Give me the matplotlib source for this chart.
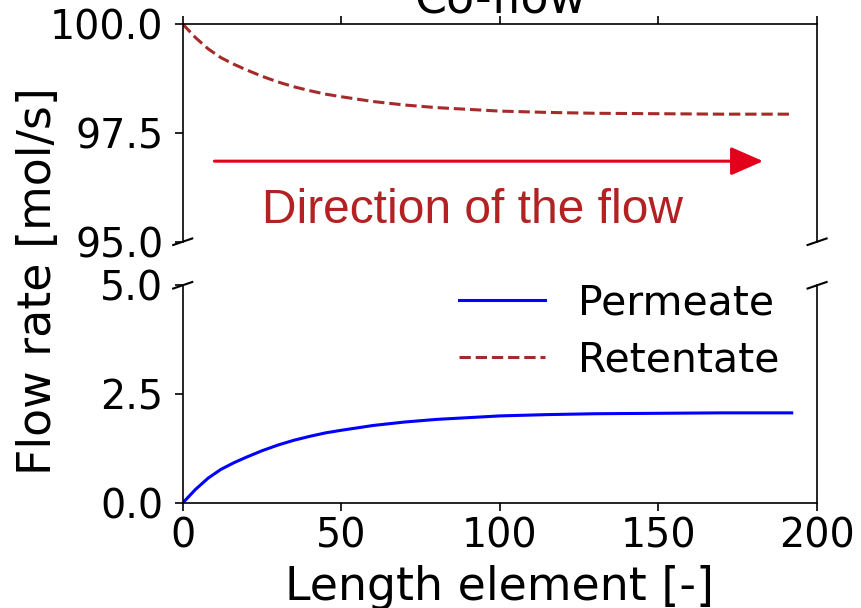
import matplotlib
matplotlib.use("Agg")
import matplotlib.pyplot as plt

# Data
length_element = [0, 4, 8, 12, 16, 20, 25, 30, 35, 40, 45, 50, 60, 70, 80, 90, 100, 115, 130, 150, 170, 192]
permeate = [0.0, 0.31, 0.57, 0.77, 0.92, 1.05, 1.20, 1.33, 1.44, 1.53, 1.61, 1.67, 1.78, 1.86, 1.92,
            1.96, 2.00, 2.03, 2.05, 2.06, 2.07, 2.07]
retentate = [100.0, 99.69, 99.43, 99.23, 99.08, 98.95, 98.80, 98.67, 98.56, 98.47, 98.39, 98.33, 98.22,
             98.14, 98.08, 98.04, 98.00, 97.97, 97.95, 97.94, 97.93, 97.93]
x_ticks = [0, 50, 100, 150, 200]
top_yticks = [95.0, 97.5, 100.0]
bottom_yticks = [0.0, 2.5, 5.0]

plt.rcParams['font.family'] = ['DejaVu Sans']
fig, (ax, ax2) = plt.subplots(2, 1, sharex=True, figsize=(8.61, 6.08), dpi=100)
fig.subplots_adjust(left=0.2122, right=0.949, top=0.9605, bottom=0.1727, hspace=0.2)

lw = 2.2
for a in (ax, ax2):
    a.plot(length_element, permeate, color='blue', lw=lw, label='Permeate')
    a.plot(length_element, retentate, color='brown', lw=lw, ls='--', label='Retentate')

ax.set_ylim(95, 100)
ax2.set_ylim(0, 5)
ax2.set_xlim(0, 200)
ax2.set_xticks(x_ticks)
ax.set_yticks(top_yticks)
ax2.set_yticks(bottom_yticks)

ax.spines['bottom'].set_visible(False)
ax2.spines['top'].set_visible(False)
ax.xaxis.tick_top()
ax.tick_params(labeltop=False)
ax2.xaxis.tick_bottom()

for a in (ax, ax2):
    a.tick_params(labelsize=28.5, length=6, width=1.2)
    a.tick_params(axis='y', pad=8)
    for s in a.spines.values():
        s.set_linewidth(1.2)

d = .015
kw = dict(transform=ax.transAxes, color='k', clip_on=False, lw=1.5)
ax.plot((-d, +d), (-d, +d), **kw)
ax.plot((1 - d, 1 + d), (-d, +d), **kw)
kw.update(transform=ax2.transAxes)
ax2.plot((-d, +d), (1 - d, 1 + d), **kw)
ax2.plot((1 - d, 1 + d), (1 - d, 1 + d), **kw)

ax.set_title('Co-flow', fontsize=33, pad=8)
ax2.set_xlabel('Length element [-]', fontsize=33, labelpad=6)
fig.text(0.045, 1 - 281 / 608, 'Flow rate [mol/s]', rotation=90, fontsize=33,
         ha='center', va='center')

ax2.legend(loc='upper right', bbox_to_anchor=(0.94, 1.007), frameon=False, fontsize=29.5,
           handlelength=2.1, borderaxespad=0, borderpad=0, labelspacing=0.4)

ax.annotate('', xy=(183, 96.85), xytext=(10, 96.85),
            arrowprops=dict(arrowstyle='-|>,head_length=0.8,head_width=0.35',
                            color='#E2001A', lw=2.2, mutation_scale=25,
                            shrinkA=0, shrinkB=0))
ax.text(91.5, 95.72, 'Direction of the flow', color='#B22222', fontsize=34.5,
        family=['Liberation Sans', 'DejaVu Sans'], ha='center', va='center')

fig.savefig('out.png', dpi=100)
